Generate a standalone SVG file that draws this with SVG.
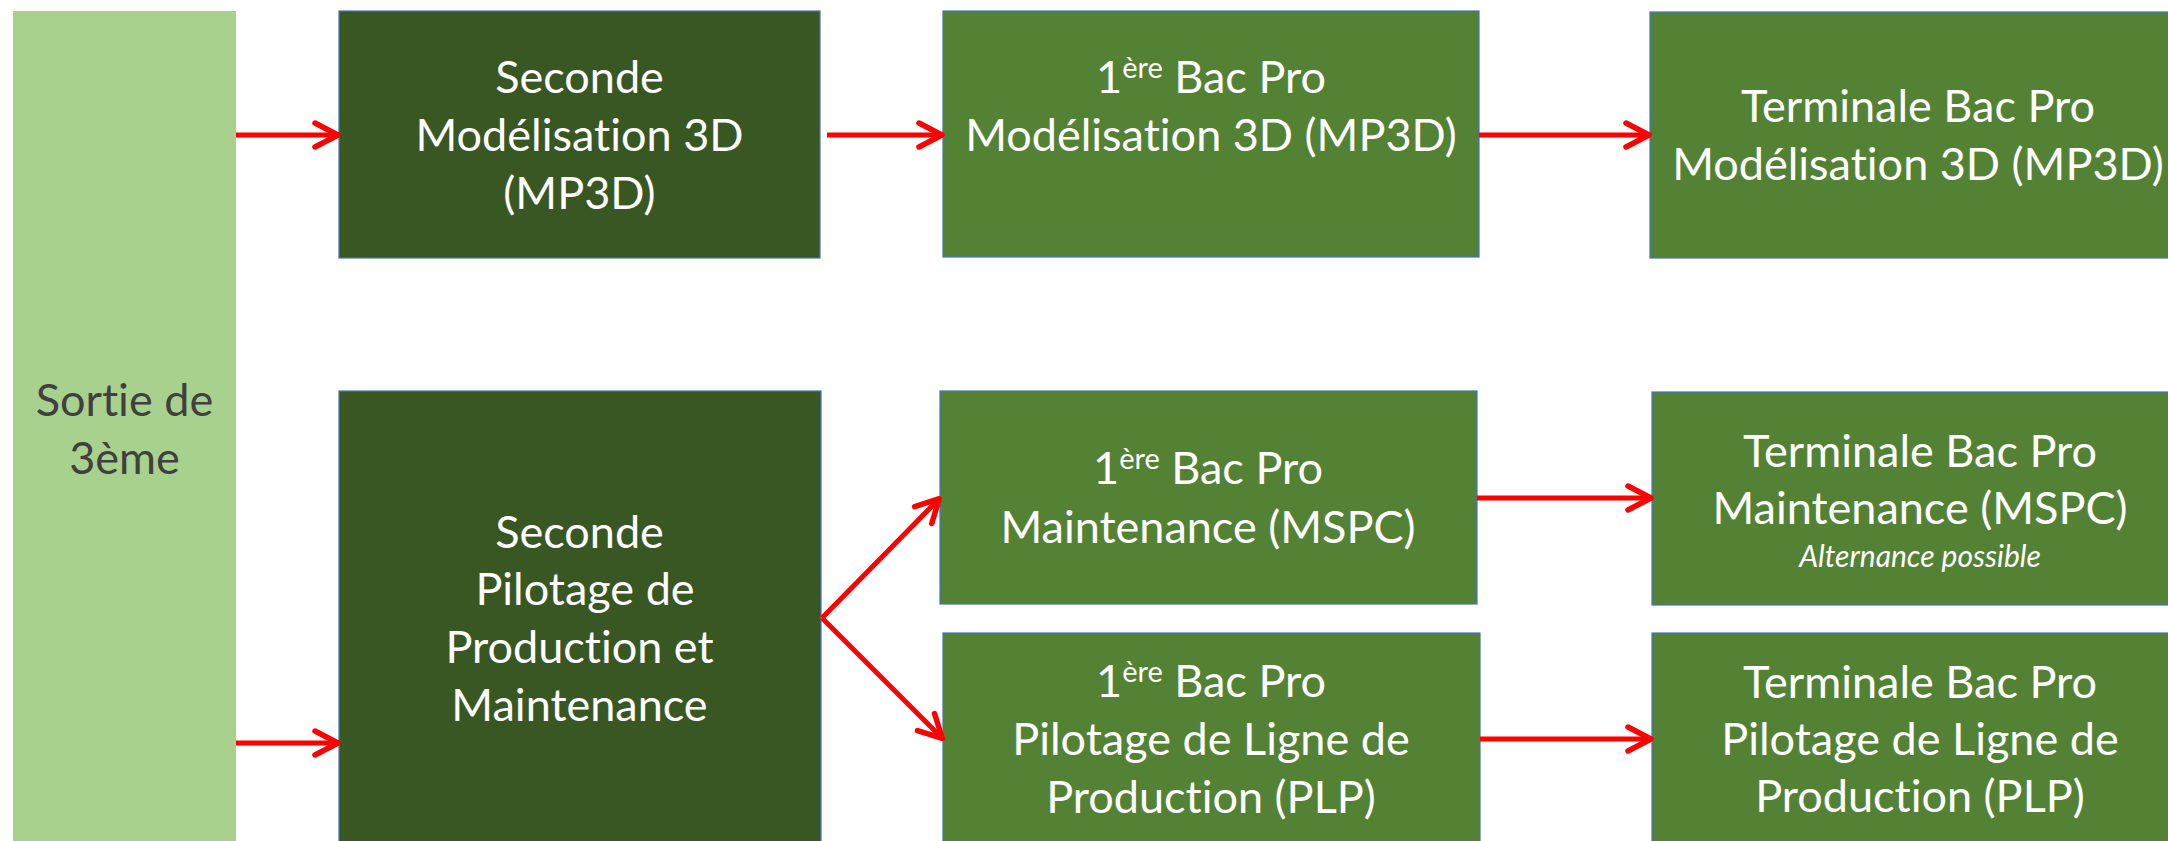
<svg xmlns="http://www.w3.org/2000/svg" width="2168" height="841" viewBox="0 0 2168 841">
<defs>
<style>
.box{stroke:#4472C4;stroke-width:1.2}
.dark{fill:#385723}
.mid{fill:#548235}
.t{font-family:Lato,"Open Sans","Liberation Sans",sans-serif;font-size:45px;fill:#FFFFFF;text-anchor:middle;font-variant-ligatures:none;font-feature-settings:"liga" 0,"clig" 0}
.sup{font-size:29px}
.it{font-style:italic;font-size:30px}
.grey{fill:#404040}
.arrow{stroke:#FF0000;stroke-width:5;fill:none;marker-end:url(#head)}
</style>
<marker id="head" markerUnits="userSpaceOnUse" viewBox="-30 -16 34 32" refX="0" refY="0" markerWidth="34" markerHeight="32" orient="auto" overflow="visible">
<path d="M-24,-12 L-1,0 L-24,12" fill="none" stroke="#FF0000" stroke-width="5.5" stroke-linecap="round" stroke-linejoin="round"/>
</marker>
</defs>
<rect width="2168" height="841" fill="#FFFFFF"/>

<g id="sortie">
<rect x="13" y="11" width="223" height="840" fill="#A9D18E"/>
<text class="t grey" x="124.5" y="416">Sortie de</text>
<text class="t grey" x="124.5" y="474">3ème</text>
</g>

<g id="seconde-mp3d">
<rect class="box dark" x="339" y="11" width="481" height="247"/>
<text class="t" x="579.5" y="93">Seconde</text>
<text class="t" x="579.5" y="151">Modélisation 3D</text>
<text class="t" x="579.5" y="209">(MP3D)</text>
</g>

<g id="premiere-mp3d">
<rect class="box mid" x="943" y="11" width="536" height="246"/>
<text class="t" x="1211" y="93">1<tspan class="sup" dy="-15">ère</tspan><tspan dy="15"> Bac Pro</tspan></text>
<text class="t" x="1211" y="151">Modélisation 3D (MP3D)</text>
</g>

<g id="terminale-mp3d">
<rect class="box mid" x="1650" y="12" width="540" height="246"/>
<text class="t" x="1918" y="122">Terminale Bac Pro</text>
<text class="t" x="1918" y="180">Modélisation 3D (MP3D)</text>
</g>

<g id="seconde-ppm">
<rect class="box dark" x="339" y="391" width="482" height="460"/>
<text class="t" x="579.5" y="548">Seconde</text>
<text class="t" x="585" y="605">Pilotage de</text>
<text class="t" x="579.5" y="663">Production et</text>
<text class="t" x="579.5" y="721">Maintenance</text>
</g>

<g id="premiere-mspc">
<rect class="box mid" x="940" y="391" width="537" height="213"/>
<text class="t" x="1208" y="484">1<tspan class="sup" dy="-15">ère</tspan><tspan dy="15"> Bac Pro</tspan></text>
<text class="t" x="1208" y="543">Maintenance (MSPC)</text>
</g>

<g id="premiere-plp">
<rect class="box mid" x="943" y="633" width="537" height="220"/>
<text class="t" x="1211" y="697">1<tspan class="sup" dy="-15">ère</tspan><tspan dy="15"> Bac Pro</tspan></text>
<text class="t" x="1211" y="755">Pilotage de Ligne de</text>
<text class="t" x="1211" y="813">Production (PLP)</text>
</g>

<g id="terminale-mspc">
<rect class="box mid" x="1652" y="392" width="540" height="213"/>
<text class="t" x="1920" y="467">Terminale Bac Pro</text>
<text class="t" x="1920" y="524">Maintenance (MSPC)</text>
<text class="t it" x="1920" y="567">Alternance possible</text>
</g>

<g id="terminale-plp">
<rect class="box mid" x="1652" y="633" width="540" height="220"/>
<text class="t" x="1920" y="698">Terminale Bac Pro</text>
<text class="t" x="1920" y="755">Pilotage de Ligne de</text>
<text class="t" x="1920" y="812">Production (PLP)</text>
</g>

<g id="connectors">
<line class="arrow" x1="236" y1="135" x2="339" y2="135"/>
<line class="arrow" x1="827" y1="135" x2="943" y2="135"/>
<line class="arrow" x1="1479" y1="135" x2="1650" y2="135"/>
<line class="arrow" x1="236" y1="743" x2="339" y2="743"/>
<line class="arrow" x1="822" y1="618" x2="940" y2="498"/>
<line class="arrow" x1="822" y1="618" x2="943" y2="739"/>
<line class="arrow" x1="1477" y1="498" x2="1652" y2="498"/>
<line class="arrow" x1="1480" y1="739" x2="1652" y2="739"/>
</g>
</svg>
